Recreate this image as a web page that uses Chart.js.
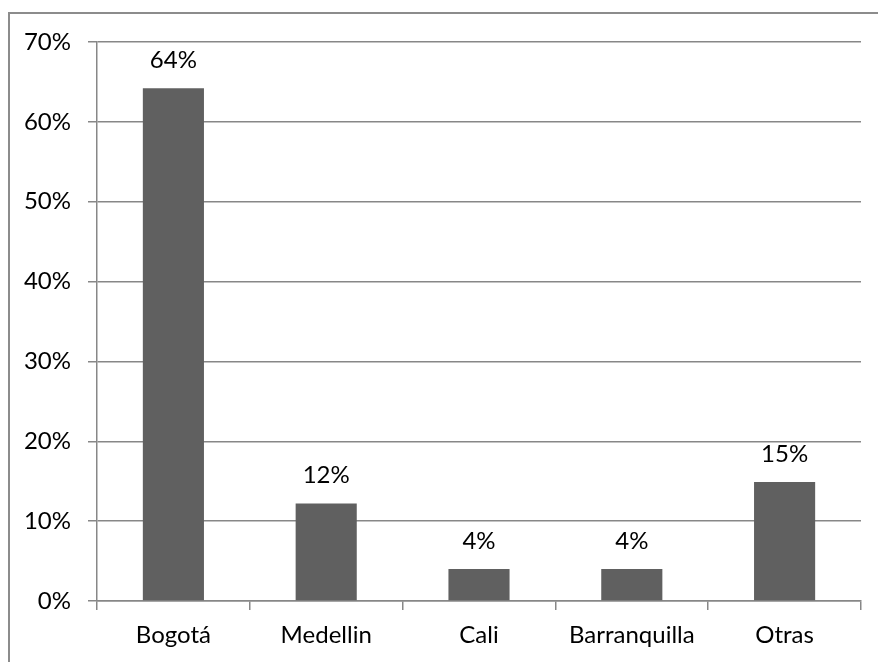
<!DOCTYPE html>
<html>
<head>
<meta charset="utf-8">
<script src="https://cdn.jsdelivr.net/npm/chart.js@4.4.0/dist/chart.umd.min.js"></script>
<style>
  html, body { margin: 0; padding: 0; background: #fff; }
  #wrap { position: relative; width: 878px; height: 662px; }
  #frame { position: absolute; left: 8px; top: 12px; right: -10px; bottom: -10px;
           border-left: 2px solid #8c8c8c; border-top: 2px solid #8c8c8c; }
  canvas { position: absolute; left: 0; top: 0; }
</style>
</head>
<body>
<div id="wrap">
  <div id="frame"></div>
  <canvas id="cityChart" width="878" height="662"></canvas>
</div>
<script>
const cities = ['Bogotá', 'Medellin', 'Cali', 'Barranquilla', 'Otras'];
const shares = [64.2, 12.2, 4.0, 4.0, 14.9];
const yTicks = [0, 10, 20, 30, 40, 50, 60, 70];

const FONT = 'Lato, "Open Sans", sans-serif';
const FONT_SIZE = 24;

// value labels above each bar
const barLabels = {
  id: 'barLabels',
  afterDatasetsDraw(chart) {
    const ctx = chart.ctx;
    const meta = chart.getDatasetMeta(0);
    ctx.save();
    ctx.font = FONT_SIZE + 'px ' + FONT;
    ctx.fillStyle = '#000';
    ctx.textAlign = 'center';
    ctx.textBaseline = 'middle';
    meta.data.forEach((bar, i) => {
      ctx.fillText(Math.round(shares[i]) + '%', bar.x, bar.y - 28);
    });
    ctx.restore();
  }
};

const ctx = document.getElementById('cityChart').getContext('2d');
window.cityChartObj = new Chart(ctx, {
  type: 'bar',
  data: {
    labels: cities,
    datasets: [{
      data: shares,
      backgroundColor: '#606060',
      borderWidth: 0,
      barPercentage: 0.4,
      categoryPercentage: 1.0
    }]
  },
  options: {
    responsive: false,
    animation: false,
    devicePixelRatio: 1,
    layout: { padding: { left: 0, right: 17, top: 42, bottom: 0 } },
    plugins: {
      legend: { display: false },
      tooltip: { enabled: false }
    },
    scales: {
      x: {
        afterFit(scale) { scale.height = 61; },
        grid: { drawOnChartArea: false, drawTicks: true, tickLength: 9, color: '#878787', lineWidth: 1.5 },
        border: { display: true, color: '#878787', width: 1.5 },
        ticks: { color: '#000', font: { family: FONT, size: FONT_SIZE }, padding: 11, maxRotation: 0 }
      },
      y: {
        min: 0,
        max: 70,
        afterFit(scale) { scale.width = 97; },
        afterBuildTicks(scale) { scale.ticks = yTicks.map(v => ({ value: v })); },
        grid: { color: '#878787', lineWidth: 1.5, tickLength: 9 },
        border: { display: true, color: '#878787', width: 1.5 },
        ticks: {
          color: '#000',
          font: { family: FONT, size: FONT_SIZE },
          padding: 17,
          callback: v => v + '%'
        }
      }
    }
  },
  plugins: [barLabels]
});
</script>
</body>
</html>
